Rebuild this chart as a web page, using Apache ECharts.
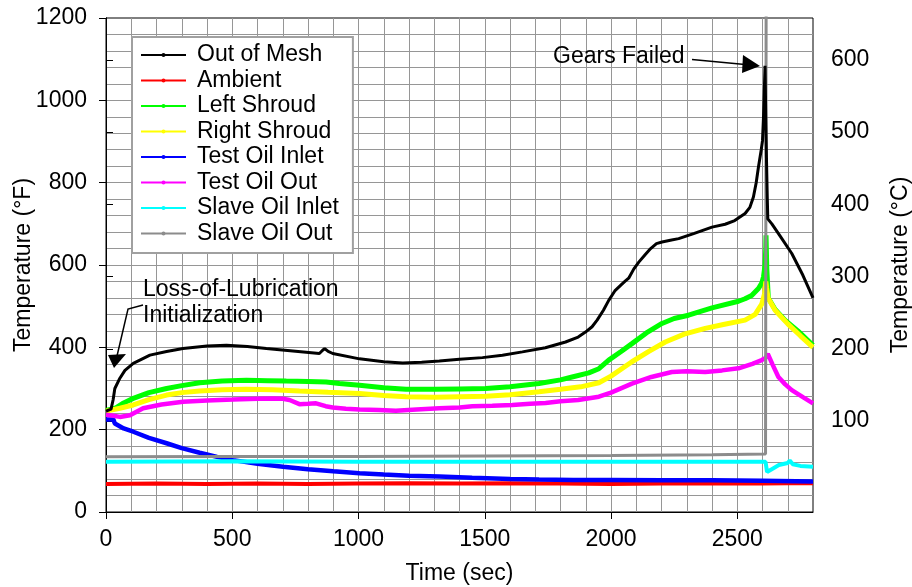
<!DOCTYPE html>
<html>
<head>
<meta charset="utf-8">
<script src="https://cdn.jsdelivr.net/npm/echarts@6/dist/echarts.min.js"></script>
<style>
  html, body { margin: 0; padding: 0; background: #fff; }
  #chart { width: 912px; height: 587px; }
</style>
</head>
<body>
<div id="chart"></div>
<script>
// [time (sec), temperature (°F)]
const outOfMesh = [[0,245],[20,250],[28,272],[35,300],[55,325],[75,344],[108,361],[174,381],[240,390],[305,397],[400,403],[477,405],[560,402],[635,397],[740,391],[845,385],[858,393],[866,397],[880,390],[898,385],[1004,372],[1100,365],[1175,362],[1250,364],[1320,367],[1400,371],[1491,375],[1570,381],[1649,389],[1740,399],[1820,413],[1870,425],[1899,437],[1925,450],[1945,466],[1970,490],[1991,514],[2015,537],[2039,551],[2055,560],[2070,568],[2090,590],[2110,607],[2135,625],[2157,640],[2180,652],[2202,656],[2235,660],[2268,664],[2330,677],[2400,692],[2452,699],[2490,708],[2531,725],[2550,740],[2564,765],[2575,800],[2584,838],[2595,880],[2600,902],[2604,960],[2607,1020],[2610,1084],[2613,960],[2616,850],[2619,760],[2621,712],[2637,700],[2670,670],[2716,628],[2760,575],[2800,520]];
const ambient = [[0,68],[200,69],[400,68],[600,69],[800,68],[1000,69],[1200,70],[1400,69],[1600,70],[1800,69],[2000,68],[2200,69],[2400,70],[2600,69],[2700,70],[2800,70]];
const leftShroud = [[0,247],[36,252],[70,265],[108,276],[170,290],[240,300],[300,307],[371,314],[460,318],[556,320],[640,319],[714,318],[800,317],[872,316],[924,312],[1004,308],[1100,302],[1188,298],[1300,298],[1400,299],[1504,300],[1600,304],[1715,312],[1800,321],[1846,328],[1912,338],[1952,348],[1991,369],[2040,390],[2083,409],[2140,435],[2202,458],[2250,470],[2307,478],[2400,496],[2505,512],[2531,518],[2557,526],[2584,543],[2597,556],[2604,571],[2610,600],[2613,640],[2614,672],[2617,590],[2623,520],[2650,492],[2689,466],[2740,440],[2800,405]];
const rightShroud = [[0,245],[55,252],[108,260],[170,273],[240,284],[300,290],[371,294],[460,297],[556,298],[660,297],[766,294],[880,291],[1004,288],[1100,283],[1188,280],[1300,279],[1400,280],[1504,281],[1600,285],[1715,292],[1800,298],[1880,304],[1952,314],[2000,330],[2083,365],[2150,390],[2215,413],[2290,432],[2373,446],[2450,456],[2531,466],[2571,480],[2597,505],[2608,530],[2613,560],[2616,545],[2622,520],[2650,490],[2700,457],[2750,428],[2800,400]];
const testOilInlet = [[0,225],[29,225],[35,215],[42,211],[70,203],[108,195],[170,180],[240,167],[300,155],[371,144],[440,134],[503,126],[600,117],[701,110],[800,104],[900,99],[1004,94],[1100,91],[1200,88],[1320,86],[1450,83],[1600,80],[1715,79],[1850,78],[2000,78],[2200,77],[2400,77],[2600,76],[2800,74]];
const testOilOut = [[0,236],[30,234],[55,231],[95,235],[147,252],[220,261],[305,268],[400,271],[503,273],[600,275],[661,276],[700,275],[727,272],[766,262],[800,263],[832,264],[870,257],[898,254],[950,251],[1004,249],[1080,248],[1148,246],[1230,249],[1320,252],[1400,254],[1451,257],[1530,258],[1609,260],[1680,263],[1741,265],[1800,269],[1870,272],[1952,280],[2000,290],[2083,312],[2160,328],[2241,340],[2300,342],[2373,340],[2440,344],[2505,349],[2560,360],[2597,369],[2612,374],[2621,384],[2640,358],[2663,328],[2690,310],[2716,296],[2760,279],[2800,264]];
const slaveOilInlet = [[0,122],[500,123],[1000,122],[1500,122],[2000,122],[2400,122],[2612,122],[2618,97],[2640,105],[2665,114],[2700,119],[2708,125],[2720,116],[2750,112],[2800,110]];
const slaveOilOut = [[0,134],[500,135],[1000,135],[1500,136],[2000,137],[2400,139],[2612,141],[2615,1500],[2800,1500]];

const seriesNames = ['Out of Mesh', 'Ambient', 'Left Shroud', 'Right Shroud', 'Test Oil Inlet', 'Test Oil Out', 'Slave Oil Inlet', 'Slave Oil Out'];
const seriesData = [outOfMesh, ambient, leftShroud, rightShroud, testOilInlet, testOilOut, slaveOilInlet, slaveOilOut];
const seriesColors = ['#000000', '#ff0000', '#00ff00', '#ffff00', '#0000ff', '#ff00ff', '#00ffff', '#8c8c8c'];
const seriesWidths = [3, 4, 5, 5, 4.5, 4.5, 4, 3];

const xLabels = [0, 500, 1000, 1500, 2000, 2500];
const yLabelsC = [100, 200, 300, 400, 500, 600];

const FONT = "'Liberation Sans', Arial, sans-serif";
const gridLine = { show: true, showMinLine: false, showMaxLine: false, lineStyle: { color: '#969696', width: 1 } };
const plain = v => String(v);

const chart = echarts.init(document.getElementById('chart'));

chart.setOption({
  animation: false,
  textStyle: { fontFamily: FONT },
  grid: {
    left: 106, right: 99, top: 18, bottom: 75,
    containLabel: false, outerBoundsMode: 'none',
    show: true, borderColor: '#000', borderWidth: 1, backgroundColor: '#fff'
  },
  legend: {
    orient: 'vertical',
    left: 132, top: 37,
    padding: [6.5, 14, 8, 8],
    itemWidth: 45, itemHeight: 5, itemGap: 2.5,
    backgroundColor: '#fff',
    borderColor: '#a0a0a0', borderWidth: 2,
    textStyle: { fontSize: 23, color: '#000', lineHeight: 23, padding: [0, 0, 0, 6], fontFamily: FONT },
    data: seriesNames
  },
  xAxis: [
    {
      type: 'value',
      min: 0, max: 2800, interval: 100,
      name: 'Time (sec)', nameLocation: 'middle', nameGap: 50,
      nameTextStyle: { fontSize: 23, color: '#000', fontFamily: FONT },
      axisLine: { lineStyle: { color: '#000', width: 1 } },
      axisTick: { show: true, length: 7, lineStyle: { color: '#000' }, customValues: xLabels },
      axisLabel: { fontSize: 23, color: '#000', margin: 16, customValues: xLabels, formatter: plain, fontFamily: FONT },
      splitLine: { show: false }
    },
    {
      // grid lines every 100 sec
      type: 'value', position: 'top',
      min: 0, max: 2800, interval: 100,
      axisLine: { show: false }, axisTick: { show: false }, axisLabel: { show: false },
      splitLine: gridLine
    }
  ],
  yAxis: [
    {
      type: 'value',
      min: 0, max: 1200, interval: 200,
      name: 'Temperature (°F)', nameLocation: 'middle', nameGap: 71, nameRotate: 90,
      nameMoveOverlap: false,
      nameTextStyle: { fontSize: 23, color: '#000', fontFamily: FONT },
      axisLine: { show: true, lineStyle: { color: '#000', width: 1 } },
      axisTick: { show: true, length: 7, lineStyle: { color: '#000' } },
      axisLabel: { fontSize: 23, color: '#000', margin: 19, formatter: plain, fontFamily: FONT },
      splitLine: { show: false }
    },
    {
      type: 'value',
      position: 'right',
      min: -26, max: 658,
      name: 'Temperature (°C)', nameLocation: 'middle', nameGap: 76, nameRotate: 90,
      nameMoveOverlap: false,
      nameTextStyle: { fontSize: 23, color: '#000', fontFamily: FONT },
      axisLine: { show: true, lineStyle: { color: '#000', width: 1 } },
      axisTick: { show: true, length: 7, lineStyle: { color: '#000' }, customValues: yLabelsC },
      axisLabel: { fontSize: 23, color: '#000', margin: 18, customValues: yLabelsC, formatter: plain, fontFamily: FONT },
      splitLine: { show: false }
    },
    {
      // grid lines every 40 °F
      type: 'value', position: 'left',
      min: 0, max: 1200, interval: 40,
      axisLine: { show: false }, axisTick: { show: false }, axisLabel: { show: false },
      splitLine: gridLine
    }
  ],
  series: seriesNames.map((name, i) => ({
    name: name,
    type: 'line',
    data: seriesData[i],
    xAxisIndex: 0,
    yAxisIndex: 0,
    showSymbol: false,
    symbol: 'circle',
    symbolSize: 5,
    clip: true,
    z: i === 0 ? 5 : 2,
    itemStyle: { color: seriesColors[i] },
    lineStyle: { color: seriesColors[i], width: seriesWidths[i] }
  })),
  graphic: [
    { type: 'text', left: 143, top: 278, z: 100, style: { text: 'Loss-of-Lubrication', font: "23px 'Liberation Sans', Arial", fill: '#000' } },
    { type: 'text', left: 143, top: 304, z: 100, style: { text: 'Initialization', font: "23px 'Liberation Sans', Arial", fill: '#000' } },
    { type: 'polyline', z: 100, shape: { points: [[143, 305], [128, 309], [117, 356]] }, style: { stroke: '#000', lineWidth: 1.5, fill: null } },
    { type: 'polygon', z: 100, shape: { points: [[108, 355], [126, 354], [114, 368]] }, style: { fill: '#000' } },
    { type: 'text', left: 553, top: 45, z: 100, style: { text: 'Gears Failed', font: "23px 'Liberation Sans', Arial", fill: '#000' } },
    { type: 'line', z: 100, shape: { x1: 692, y1: 59.5, x2: 745, y2: 64.5 }, style: { stroke: '#000', lineWidth: 1.5 } },
    { type: 'polygon', z: 100, shape: { points: [[743, 55], [742, 73], [760, 66]] }, style: { fill: '#000' } }
  ]
});
</script>
</body>
</html>
